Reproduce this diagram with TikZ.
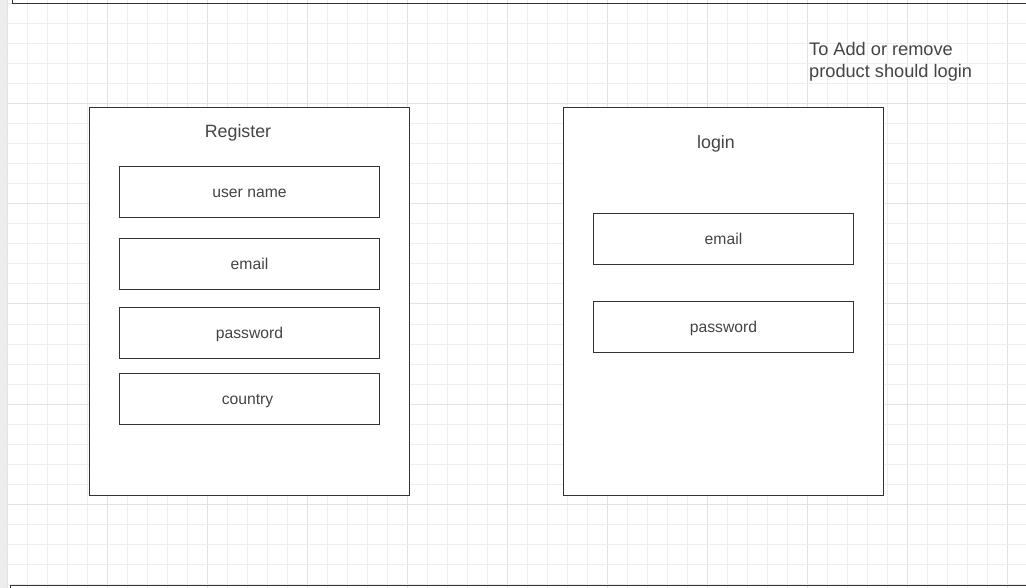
\documentclass[tikz,border=0pt]{standalone}
\usepackage{fontspec}
\setmainfont{Liberation Sans}
\definecolor{minorgrid}{HTML}{EEEEEE}
\definecolor{majorgrid}{HTML}{E2E2E2}
\definecolor{edge}{HTML}{333333}
\definecolor{txt}{HTML}{444444}
\definecolor{sidebar}{HTML}{EDEDED}
\newcommand{\fieldtext}[1]{\raisebox{-1.7pt}[\height][\depth]{\vphantom{dp}#1}}
\begin{document}
\begin{tikzpicture}[x=1pt,y=-1pt,
  panel/.style={draw=edge,line width=0.9pt,fill=white},
  field/.style={draw=edge,line width=0.9pt,fill=white,minimum width=260pt,minimum height=51pt,inner sep=0pt,font=\fontsize{15.7}{18}\selectfont,text=txt},
  title/.style={font=\fontsize{17.8}{21}\selectfont,text=txt,inner sep=0pt},
  note/.style={font=\fontsize{18.2}{22}\selectfont,text=txt,inner sep=0pt,align=left}]
\useasboundingbox (0,0) rectangle (1026,588);
\fill[white] (0,0) rectangle (1026,588);
% grid
\foreach \i in {0,...,51} {
  \pgfmathtruncatemacro{\m}{mod(\i,5)}
  \ifnum\m=0 \draw[majorgrid,line width=1pt] (7+20*\i,0) -- (7+20*\i,588);
  \else \draw[minorgrid,line width=1pt] (7+20*\i,0) -- (7+20*\i,588); \fi
}
\foreach \j in {0,...,29} {
  \pgfmathtruncatemacro{\m}{mod(\j,5)}
  \ifnum\m=0 \draw[majorgrid,line width=1pt] (0,4+20*\j) -- (1026,4+20*\j);
  \else \draw[minorgrid,line width=1pt] (0,4+20*\j) -- (1026,4+20*\j); \fi
}
\fill[sidebar] (0,0) rectangle (7,588);
% outer frames (partly visible)
\draw[edge,line width=1pt] (12,-20) -- (12,3.5) -- (1040,3.5);
\draw[edge,line width=1pt] (10.5,610) -- (10.5,585.5) -- (1040,585.5);
% register panel
\node[panel,minimum width=320pt,minimum height=388pt,inner sep=0pt,anchor=north west] (reg) at (89,107) {};
\node[title] (regt) at (238,133) {Register};
\node[field] (uname) at (249.5,191.5) {\fieldtext{user name}};
\node[field] (remail) at (249.5,263.5) {\fieldtext{email}};
\node[field] (rpass) at (249.5,332.5) {\fieldtext{password}};
\node[field] (rcountry) at (249.5,398.5) {\fieldtext{\hspace*{-4pt}country}};
% login panel
\node[panel,minimum width=320pt,minimum height=388pt,inner sep=0pt,anchor=north west] (log) at (563,107) {};
\node[title] (logt) at (716,144) {login};
\node[field] (lemail) at (723.5,238.5) {\fieldtext{email}};
\node[field] (lpass) at (723.5,326.5) {\fieldtext{password}};
% note
\node[note,anchor=north west] (note) at (809,42) {To Add or remove\\product should login};
\end{tikzpicture}
\end{document}
